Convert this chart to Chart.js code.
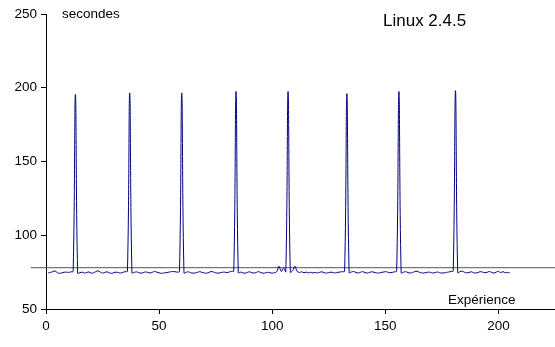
<!DOCTYPE html>
<html>
<head>
<meta charset="utf-8">
<script src="https://cdn.jsdelivr.net/npm/chart.js@4/dist/chart.umd.min.js"></script>
<style>
  html, body { margin: 0; padding: 0; background: #fff; }
  #wrap { width: 555px; height: 347px; }
</style>
</head>
<body>
<div id="wrap"><canvas id="chart"></canvas></div>
<script>
// temps mesuré (secondes) pour chaque expérience, x = 1 .. 205
const secondes = [
  74.5, 74.8, 75.3, 75.8, 74.6, 74.2, 74.5, 74.9, 75.0, 74.8,
  75.2, 75.5, 195.5, 74.3, 74.6, 75.0, 74.4, 74.7, 75.1, 74.3,
  74.6, 75.3, 75.9, 75.0, 74.4, 74.8, 75.2, 74.5, 74.2, 74.6,
  75.0, 74.7, 74.4, 74.9, 75.3, 75.6, 196.5, 74.5, 74.8, 75.2,
  74.6, 74.3, 74.7, 75.1, 74.8, 74.4, 74.9, 75.4, 75.0, 74.5,
  74.2, 74.4, 74.6, 74.9, 75.2, 75.4, 75.3, 75.0, 75.5, 196.5,
  74.4, 74.9, 75.2, 74.6, 74.3, 74.5, 74.9, 75.3, 74.8, 74.4,
  74.3, 74.8, 75.4, 75.1, 74.5, 74.3, 74.6, 74.9, 75.0, 74.7,
  75.1, 75.5, 75.8, 197.5, 74.6, 75.0, 74.5, 74.3, 74.8, 75.2,
  74.6, 74.4, 74.8, 75.3, 74.7, 74.3, 74.5, 74.9, 74.6, 74.3,
  74.6, 75.3, 79.0, 75.4, 77.8, 75.2, 197.5, 75.0, 76.0, 79.0,
  75.6, 74.8, 75.2, 74.6, 75.0, 74.5, 74.9, 74.4, 74.8, 74.5,
  74.9, 75.2, 74.6, 74.4, 74.7, 75.0, 74.6, 74.5, 74.8, 75.1,
  75.3, 75.6, 196.0, 74.6, 75.1, 75.4, 74.8, 74.4, 74.9, 75.3,
  74.7, 74.4, 74.8, 75.2, 74.9, 74.5, 74.4, 74.7, 75.0, 75.3,
  75.0, 74.6, 74.8, 75.2, 75.6, 197.5, 74.5, 74.9, 75.3, 74.7,
  74.4, 74.8, 75.3, 75.6, 74.9, 74.5, 74.4, 74.7, 75.0, 74.8,
  74.4, 74.7, 75.1, 74.6, 74.4, 74.5, 74.8, 75.1, 75.4, 75.7,
  198.0, 74.6, 75.3, 75.6, 74.9, 74.5, 74.8, 75.2, 74.6, 74.4,
  74.8, 75.3, 75.0, 74.6, 74.9, 75.4, 74.8, 74.4, 75.0, 75.5,
  74.7, 75.3, 74.6, 74.8, 74.5
];
const premiereExperience = 1;
const experiences = secondes.map((_, i) => premiereExperience + i);

// ligne horizontale de référence
const seuil = 78;
const seuilX = [-6.7, 225];

const xTicks = [0, 50, 100, 150, 200];
const yTicks = [50, 100, 150, 200, 250];

const txtFont = '"Liberation Sans", Arial, sans-serif';

const labelsPlugin = {
  id: 'labels',
  afterDraw(chart) {
    const ctx = chart.ctx;
    ctx.save();
    ctx.fillStyle = '#000';
    ctx.textBaseline = 'middle';
    ctx.textAlign = 'left';
    ctx.font = '13.5px ' + txtFont;
    ctx.fillText('secondes', 62, 14);
    ctx.fillText('Expérience', 448, 300);
    ctx.font = '17px ' + txtFont;
    ctx.fillText('Linux 2.4.5', 383, 21);
    ctx.restore();
  }
};

new Chart(document.getElementById('chart').getContext('2d'), {
  type: 'line',
  data: {
    datasets: [
      {
        label: 'Linux 2.4.5',
        data: experiences.map((x, i) => ({x: x, y: secondes[i]})),
        borderColor: '#00007f',
        borderWidth: 1,
        pointRadius: 0,
        tension: 0.4,
        fill: false
      },
      {
        label: 'seuil',
        data: seuilX.map(x => ({x: x, y: seuil})),
        borderColor: '#555',
        borderWidth: 1,
        pointRadius: 0,
        clip: false,
        fill: false
      }
    ]
  },
  options: {
    responsive: true,
    maintainAspectRatio: false,
    animation: false,
    layout: { padding: { top: 14, right: 0, left: 0, bottom: 0 } },
    plugins: { legend: { display: false }, tooltip: { enabled: false } },
    scales: {
      x: {
        type: 'linear',
        min: 0,
        max: 225,
        afterFit: s => { s.height = 38; },
        afterBuildTicks: s => { s.ticks = xTicks.map(v => ({value: v})); },
        ticks: { color: '#000', padding: 4, font: { family: txtFont, size: 13.5 }, maxRotation: 0 },
        grid: { drawOnChartArea: false, drawTicks: true, tickLength: 5, color: '#000' },
        border: { color: '#000', width: 1 }
      },
      y: {
        min: 50,
        max: 250,
        afterFit: s => { s.width = 46; },
        afterBuildTicks: s => { s.ticks = yTicks.map(v => ({value: v})); },
        ticks: { color: '#000', padding: 4, font: { family: txtFont, size: 13.5 } },
        grid: { drawOnChartArea: false, drawTicks: true, tickLength: 5, color: '#000' },
        border: { color: '#000', width: 1 }
      }
    }
  },
  plugins: [labelsPlugin]
});
</script>
</body>
</html>
